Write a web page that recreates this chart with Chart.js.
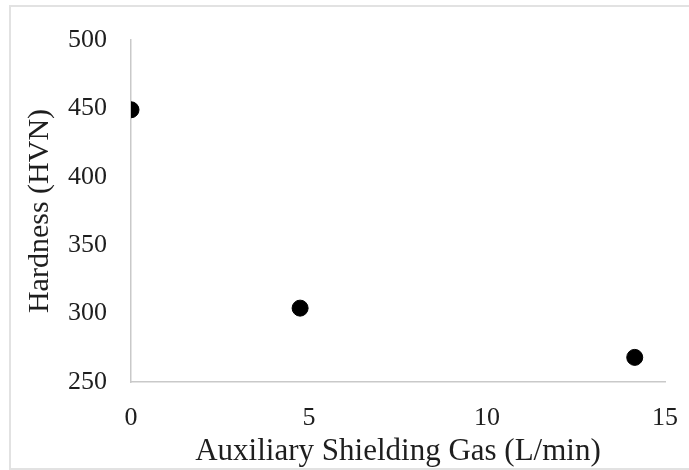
<!DOCTYPE html>
<html>
<head>
<meta charset="utf-8">
<script src="https://cdn.jsdelivr.net/npm/chart.js@4.4.1/dist/chart.umd.min.js"></script>
<style>
  body { margin: 0; background: #fff; }
  #frame { position: absolute; left: 9px; top: 5px; width: 700px; height: 465px; border: 2px solid #e2e2e2; box-sizing: border-box; }
  #wrap { position: absolute; left: 0; top: 0; width: 689px; height: 470px; }
</style>
</head>
<body>
<div id="frame"></div>
<div id="wrap"><canvas id="hardness-chart" width="689" height="470"></canvas></div>
<script>
	// Hardness vs auxiliary shielding gas flow
	var gasFlow = [0, 4.75, 14.15];
	var hardness = [449, 304, 268];
	var xTicks = [0, 5, 10, 15];
	var yTicks = [250, 300, 350, 400, 450, 500];

	var points = gasFlow.map(function (x, i) { return { x: x, y: hardness[i] }; });
	var serif = "'Liberation Serif', 'Times New Roman', serif";

	new Chart(document.getElementById("hardness-chart"), {
		type: 'scatter',
		data: {
			datasets: [{
				data: points,
				backgroundColor: '#000',
				borderColor: '#000',
				pointRadius: 8,
				pointHoverRadius: 8
			}]
		},
		options: {
			responsive: false,
			animation: false,
			layout: { padding: { top: 40, right: 24, left: 0, bottom: 0 } },
			plugins: { legend: { display: false }, tooltip: { enabled: false } },
			scales: {
				x: {
					type: 'linear',
					min: xTicks[0],
					max: xTicks[xTicks.length - 1],
					afterBuildTicks: function (axis) { axis.ticks = xTicks.map(function (v) { return { value: v }; }); },
					afterFit: function (axis) { axis.height = 88; axis.paddingRight = 0; axis.paddingLeft = 0; },
					grid: { display: false },
					border: { display: true, color: '#c9c9c9', width: 1.5 },
					ticks: { color: '#1e1e1e', padding: 13, font: { family: serif, size: 26 } },
					title: {
						display: true,
						text: 'Auxiliary Shielding Gas (L/min)',
						color: '#1e1e1e',
						padding: { top: 0, bottom: 0 },
						font: { family: serif, size: 31 }
					}
				},
				y: {
					min: yTicks[0],
					max: yTicks[yTicks.length - 1],
					afterBuildTicks: function (axis) { axis.ticks = yTicks.map(function (v) { return { value: v }; }); },
					afterFit: function (axis) { axis.width = 131; },
					grid: { display: false },
					border: { display: true, color: '#c9c9c9', width: 1.5 },
					ticks: { color: '#1e1e1e', padding: 16, font: { family: serif, size: 26 } },
					title: {
						display: true,
						text: 'Hardness (HVN)',
						color: '#1e1e1e',
						padding: { top: 22, bottom: 0 },
						font: { family: serif, size: 30 }
					}
				}
			}
		}
	});
</script>
</body>
</html>
